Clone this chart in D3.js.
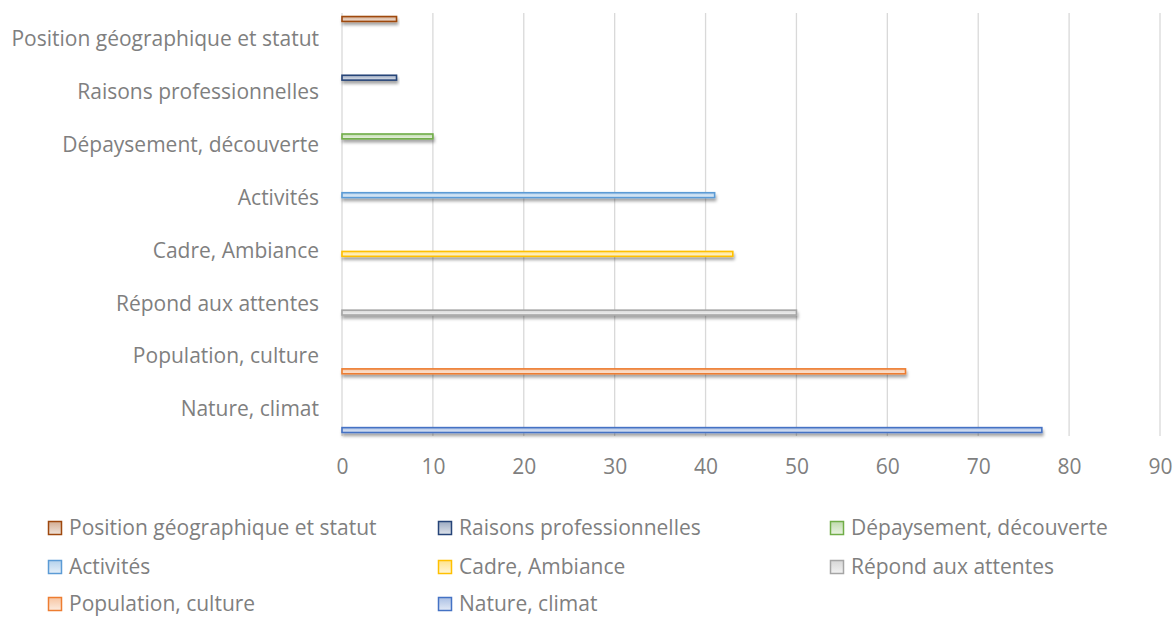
<!DOCTYPE html>
<html><head><meta charset="utf-8">
<script src="https://cdn.jsdelivr.net/npm/d3@7"></script>
<style>body{margin:0;background:#fff}svg{display:block}text{font-family:"Open Sans",sans-serif;fill:#7f7f7f}</style>
</head><body>
<script>
// Categories top to bottom as displayed
const categories = ["Position géographique et statut","Raisons professionnelles","Dépaysement, découverte","Activités","Cadre, Ambiance","Répond aux attentes","Population, culture","Nature, climat"];
// Each series has a single value, in its own category
const seriesNames = categories.slice();
const seriesValues = [6, 6, 10, 41, 43, 50, 62, 77];
const seriesColors = ["#9E480E","#264478","#70AD47","#5B9BD5","#FFC000","#A5A5A5","#ED7D31","#4472C4"];
const xTicks = [0,10,20,30,40,50,60,70,80,90];

const W=1176,H=617, FS=21;
const svg=d3.select("body").append("svg").attr("width",W).attr("height",H);
const defs=svg.append("defs");
const f=defs.append("filter").attr("id","sh").attr("x","-5%").attr("y","-100%").attr("width","110%").attr("height","400%");
f.append("feDropShadow").attr("dx",1).attr("dy",3).attr("stdDeviation",1.6).attr("flood-color","#000").attr("flood-opacity",0.35);
seriesColors.forEach((c,i)=>{
  const g=defs.append("linearGradient").attr("id","g"+i).attr("x1",0).attr("y1",0).attr("x2",0).attr("y2",1);
  const lc=d3.interpolateRgb(c,"#fff");
  g.append("stop").attr("offset","0%").attr("stop-color",lc(0.55));
  g.append("stop").attr("offset","100%").attr("stop-color",lc(0.85));
});

const x=d3.scaleLinear().domain([0,90]).range([342,1160]);
const y=d3.scaleBand().domain(categories).range([13,436]).paddingInner(0.115).paddingOuter(0.0575);
const ys=d3.scaleBand().domain(seriesNames).range([0,y.bandwidth()]);

// gridlines
svg.append("g").selectAll("line").data(xTicks).join("line")
  .attr("x1",d=>x(d)).attr("x2",d=>x(d)).attr("y1",13).attr("y2",436)
  .attr("stroke","#d9d9d9").attr("stroke-width",1.3);

// bars
const bars=seriesNames.map((s,i)=>({s,cat:categories[i],v:seriesValues[i],i}));
svg.append("g").selectAll("rect").data(bars).join("rect")
  .attr("x",x(0)).attr("y",d=>y(d.cat)+ys(d.s)+0.5)
  .attr("width",d=>x(d.v)-x(0)).attr("height",ys.bandwidth()-1)
  .attr("fill",d=>"url(#g"+d.i+")").attr("stroke",d=>seriesColors[d.i]).attr("stroke-width",1.6)
  .attr("filter","url(#sh)");

// x axis labels
const xa=d3.axisBottom(x).tickValues(xTicks).tickSize(0).tickPadding(0);
const gx=svg.append("g").attr("transform","translate(0,474)").call(xa);
gx.select(".domain").remove();
gx.selectAll("text").attr("font-size",FS).attr("dy",0).attr("fill","#7f7f7f").style("font-family","'Open Sans', sans-serif");

// y labels
const ya=d3.axisLeft(y).tickSize(0).tickPadding(0);
const gy=svg.append("g").attr("transform","translate(319,0)").call(ya);
gy.select(".domain").remove();
gy.selectAll("text").attr("font-size",FS).attr("fill","#7f7f7f").style("font-family","'Open Sans', sans-serif");

// legend
const legCols=[48,438,830], legRows=[528,567,604];
const lg=svg.append("g").selectAll("g").data(seriesNames).join("g")
  .attr("transform",(d,i)=>`translate(${legCols[i%3]},${legRows[Math.floor(i/3)]})`);
lg.append("rect").attr("x",0.5).attr("y",-6.5).attr("width",13).attr("height",13)
  .attr("fill",(d,i)=>"url(#g"+i+")").attr("stroke",(d,i)=>seriesColors[i]).attr("stroke-width",1.5);
lg.append("text").attr("x",21).attr("y",0).attr("dy","0.35em").attr("font-size",FS).text(d=>d);
</script>
</body></html>
